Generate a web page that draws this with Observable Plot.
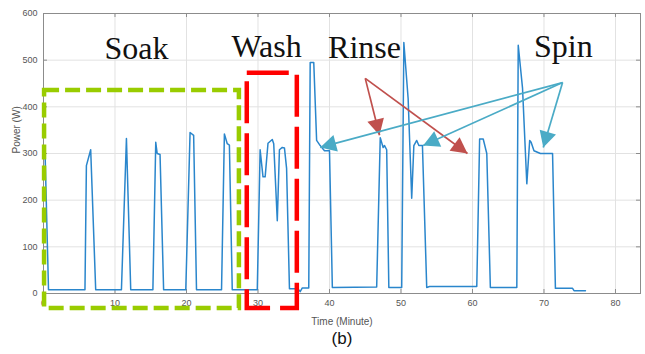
<!DOCTYPE html>
<html><head><meta charset="utf-8">
<script src="https://cdn.jsdelivr.net/npm/d3@7"></script>
<script src="https://cdn.jsdelivr.net/npm/@observablehq/plot@0.6"></script>
<style>body{margin:0;background:#fff;} #chart{width:645px;height:354px;}</style>
</head><body><div id="chart"></div>
<script>
// Washing-machine power trace (minutes, watts)
const time  = [0, 0.2, 0.7, 5.8, 6.0, 6.6, 7.3, 10.9, 11.6, 12.2, 15.3, 15.7, 15.9, 16.3, 16.8,
  19.9, 20.5, 21.0, 21.4, 24.9, 25.3, 25.7, 26.0, 26.4, 29.9, 30.3, 30.7, 31.0, 31.4, 32.0, 32.2,
  32.7, 33.0, 33.4, 33.7, 34.0, 34.4, 35.6, 35.9, 36.2, 37.1, 37.3, 37.8, 38.2, 38.7, 39.3, 40.0,
  40.4, 46.6, 47.1, 47.5, 47.7, 48.0, 48.3, 50.1, 50.4, 51.0, 51.5, 51.8, 52.2, 52.5, 53.0, 53.6,
  54.0, 60.6, 61.0, 61.5, 62.0, 62.5, 66.2, 66.4, 67.0, 67.6, 68.0, 68.2, 68.6, 69.5, 71.2, 71.6,
  74.0, 74.2, 75.8];
const power = [305, 313, 8, 8, 274, 308, 8, 8, 332, 8, 8, 324, 300, 298, 8,
  8, 345, 339, 8, 8, 342, 321, 318, 8, 8, 308, 250, 250, 322, 330, 321,
  156, 308, 313, 312, 268, 10, 10, 4, 12, 12, 495, 495, 328, 317, 306, 306,
  13, 14, 334, 313, 317, 308, 13, 13, 538, 418, 204, 317, 328, 317, 317, 13,
  15, 15, 331, 331, 300, 13, 13, 532, 440, 235, 328, 324, 306, 300, 300, 11,
  11, 6, 6];

const xTicks = [0, 10, 20, 30, 40, 50, 60, 70, 80];
const yTicks = [0, 100, 200, 300, 400, 500, 600];

// Phase annotations
const phaseNames = ["Soak", "Wash", "Rinse", "Spin"];
const phaseTime  = [13.0, 31.2, 44.9, 72.7];
const phasePower = [503, 506, 504, 506];

// Dashed boxes (time / power extents)
const soakBox = {t1: 0.15, t2: 27.4, p1: -32, p2: 435};
const washBox = {t1: 28.5, t2: 35.5, p1: -32, p2: 472};

// Arrows: from label to pointed feature
const rinseArrowFrom = [45.0, 461];
const rinseArrowTo   = [[47.0, 339], [59.3, 300]];
const spinArrowFrom  = [72.6, 452];
const spinArrowTo    = [[38.7, 313], [53.1, 317], [69.9, 313]];

const trace = time.map((t, i) => ({t, p: power[i]}));
const phases = phaseNames.map((name, i) => ({name, t: phaseTime[i], p: phasePower[i]}));
const rinseArrows = rinseArrowTo.map(([t, p]) => ({t1: rinseArrowFrom[0], p1: rinseArrowFrom[1], t2: t, p2: p}));
const spinArrows = spinArrowTo.map(([t, p]) => ({t1: spinArrowFrom[0], p1: spinArrowFrom[1], t2: t, p2: p}));

function arrowMark(data, color) {
  return Plot.link(data, {
    x1: "t1", y1: "p1", x2: "t2", y2: "p2", stroke: color, strokeWidth: 1.7,
    render(index, scales, values, dimensions, context, next) {
      const g = next(index, scales, values, dimensions, context);
      const sel = d3.select(g);
      const L = 16, W = 8.5;
      for (const i of index) {
        const x1 = values.x1[i], y1 = values.y1[i], x2 = values.x2[i], y2 = values.y2[i];
        const dx = x2 - x1, dy = y2 - y1, len = Math.hypot(dx, dy);
        const ux = dx / len, uy = dy / len;
        const bx = x2 - ux * L, by = y2 - uy * L;
        const pts = [[x2, y2], [bx - uy * W, by + ux * W], [bx + uy * W, by - ux * W]];
        sel.append("polygon").attr("points", pts.map(p => p.join(",")).join(" "))
          .attr("fill", color).attr("stroke", "none");
      }
      return g;
    }
  });
}

const frameColor = "#8c8c8c";
const tickColor = "#555";
const sans = "'Liberation Sans', Arial, sans-serif";
const serif = "'Liberation Serif', 'Times New Roman', serif";

const chart = Plot.plot({
  width: 645,
  height: 354,
  marginLeft: 43,
  marginRight: 5,
  marginTop: 13,
  marginBottom: 61,
  style: {fontFamily: sans, background: "white"},
  x: {domain: [0, 83.5], axis: null},
  y: {domain: [0, 600], axis: null},
  marks: [
    Plot.gridX(xTicks, {stroke: "#e2e2e2", strokeOpacity: 1}),
    Plot.gridY(yTicks, {stroke: "#e2e2e2", strokeOpacity: 1}),
    Plot.frame({stroke: frameColor}),
    Plot.ruleX(xTicks, {x: d => d, insetTop: 276, stroke: frameColor}),
    Plot.ruleX(xTicks, {x: d => d, insetBottom: 276, stroke: frameColor}),
    Plot.ruleY(yTicks, {y: d => d, insetRight: 593, stroke: frameColor}),
    Plot.ruleY(yTicks, {y: d => d, insetLeft: 593, stroke: frameColor}),
    Plot.axisX(xTicks, {anchor: "bottom", tickSize: 0, tickPadding: 6, fontSize: 9, fill: tickColor, label: null}),
    Plot.axisY(yTicks, {anchor: "left", tickSize: 0, tickPadding: 6, fontSize: 9, fill: tickColor, label: null}),
    Plot.text(["Power (W)"], {frameAnchor: "left", rotate: -90, dx: -27, fontSize: 10, fill: tickColor}),
    Plot.text(["Time (Minute)"], {frameAnchor: "bottom", dy: 31, fontSize: 10, fill: tickColor}),
    Plot.text(["(b)"], {frameAnchor: "bottom", dy: 50, fontSize: 17, fill: "#111"}),
    Plot.line(trace, {x: "t", y: "p", stroke: "#2a86cc", strokeWidth: 1.5}),
    Plot.rect([soakBox], {x1: "t1", x2: "t2", y1: "p1", y2: "p2", fill: "none",
      stroke: "#99cc00", strokeWidth: 4.5, strokeDasharray: "15,6"}),
    Plot.rect([washBox], {x1: "t1", x2: "t2", y1: "p1", y2: "p2", fill: "none",
      stroke: "#ff0000", strokeWidth: 4.5, strokeDasharray: "42,10"}),
    arrowMark(rinseArrows, "#c0504d"),
    arrowMark(spinArrows, "#4aabc6"),
    Plot.text(phases, {x: "t", y: "p", text: "name", fontFamily: serif, fontSize: 32,
      fill: "#111", lineAnchor: "bottom"})
  ]
});
document.getElementById("chart").appendChild(chart);
</script>
</body></html>
